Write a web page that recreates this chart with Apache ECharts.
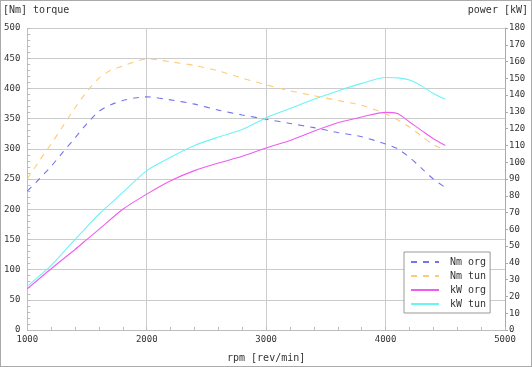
<!DOCTYPE html>
<html><head><meta charset="utf-8">
<script src="https://cdn.jsdelivr.net/npm/echarts@6/dist/echarts.min.js"></script>
<style>html,body{margin:0;padding:0;background:#fff}#c{width:530px;height:365px;border:1px solid #aaa}</style>
</head><body><div id="c"></div>
<script>
const rpmTorque = [1000,1100,1200,1300,1400,1500,1600,1700,1800,1900,2000,2200,2400,2600,2800,3000,3200,3400,3600,3800,4000,4100,4200,4300,4400,4500];
const nmOrg = [230,250,271,295,318,342,362,373,380,384,386,381,374,364,356,349,342,335,327,320,308,300,286,268,250,236];
const nmTun = [250,280,308,338,368,395,417,430,437,444,449,444,438,429,417,406,396,388,380,372,358,348,336,321,307,298];
const rpmPower = [1000,1200,1400,1500,1600,1800,2000,2200,2400,2600,2800,3000,3200,3400,3600,3800,4000,4100,4200,4300,4400,4500];
const kwOrg = [24.5,36.5,48,54,60,72,81,89,95,99.5,103.5,108.5,113,118.5,123.5,127,129.7,129,124,119,114,110];
const kwTun = [26,38.5,54,61.5,69,82,95,103,110,115,119.5,126.5,132,137.5,142.5,147,150.5,150.3,149,145.5,141,137.5];
const seriesNames = ['Nm org','Nm tun','kW org','kW tun'];

const pair = (xs, ys) => xs.map((x, i) => [x, ys[i]]);
const F = 'DejaVu Sans Mono';
const chart = echarts.init(document.getElementById('c'));
chart.setOption({
  animation: false,
  backgroundColor: '#fff',
  textStyle: {fontFamily: F},
  grid: {left: 26.3, right: 26, top: 27, bottom: 36},
  graphic: [
    {type: 'text', left: 2, top: 4, style: {text: '[Nm] torque', font: '10px "DejaVu Sans Mono"', fill: '#333'}},
    {type: 'text', right: 3, top: 4, style: {text: 'power [kW]', font: '10px "DejaVu Sans Mono"', fill: '#333'}},
    {type: 'text', left: 226, top: 352, style: {text: 'rpm [rev/min]', font: '10px "DejaVu Sans Mono"', fill: '#333'}}
  ],
  legend: {
    orient: 'vertical', left: 403, top: 251, data: seriesNames,
    backgroundColor: '#fff', borderColor: '#999', borderWidth: 1,
    padding: [5, 4, 4, 6], itemGap: 4, itemWidth: 28, itemHeight: 9,
    itemStyle: {opacity: 0},
    textStyle: {fontFamily: F, fontSize: 10, color: '#333', padding: [0, 0, 0, 6]}
  },
  xAxis: {
    type: 'value', min: 1000, max: 5000, interval: 1000,
    axisLine: {lineStyle: {color: '#bbb', type: 'dotted'}},
    axisTick: {inside: true, length: 3, lineStyle: {color: '#bbb'}},
    minorTick: {show: true, splitNumber: 5, length: 3, lineStyle: {color: '#bbb'}},
    axisLabel: {fontFamily: F, fontSize: 9, color: '#333', margin: 5, formatter: v => String(v)},
    splitLine: {show: true, lineStyle: {color: '#ccc'}}
  },
  yAxis: [{
    type: 'value', min: 0, max: 500, interval: 50,
    axisLine: {show: true, lineStyle: {color: '#bbb', type: 'dotted'}},
    axisTick: {show: true, inside: true, length: 3, lineStyle: {color: '#bbb'}},
    minorTick: {show: true, splitNumber: 5, length: 3, lineStyle: {color: '#bbb'}},
    axisLabel: {fontFamily: F, fontSize: 9, color: '#333', margin: 7},
    splitLine: {show: true, lineStyle: {color: '#ccc'}}
  }, {
    type: 'value', min: 0, max: 180, interval: 10, position: 'right',
    axisLine: {show: true, lineStyle: {color: '#aaa'}},
    axisTick: {show: true, length: 3, lineStyle: {color: '#aaa'}},
    axisLabel: {fontFamily: F, fontSize: 9, color: '#333', margin: 4},
    splitLine: {show: false}
  }],
  series: [
    {name: seriesNames[0], type: 'line', yAxisIndex: 0, smooth: 0.25, showSymbol: false, symbol: 'none',
     data: pair(rpmTorque, nmOrg), lineStyle: {color: '#7474f0', width: 1.1, type: [6, 6]}, itemStyle: {color: '#7474f0'}},
    {name: seriesNames[1], type: 'line', yAxisIndex: 0, smooth: 0.25, showSymbol: false, symbol: 'none',
     data: pair(rpmTorque, nmTun), lineStyle: {color: '#fccc78', width: 1.1, type: [6, 6]}, itemStyle: {color: '#fccc78'}},
    {name: seriesNames[2], type: 'line', yAxisIndex: 1, smooth: 0.25, showSymbol: false, symbol: 'none',
     data: pair(rpmPower, kwOrg), lineStyle: {color: '#f05cf0', width: 1.1}, itemStyle: {color: '#f05cf0'}},
    {name: seriesNames[3], type: 'line', yAxisIndex: 1, smooth: 0.25, showSymbol: false, symbol: 'none',
     data: pair(rpmPower, kwTun), lineStyle: {color: '#6cf4f4', width: 1.1}, itemStyle: {color: '#6cf4f4'}}
  ]
});
</script></body></html>
